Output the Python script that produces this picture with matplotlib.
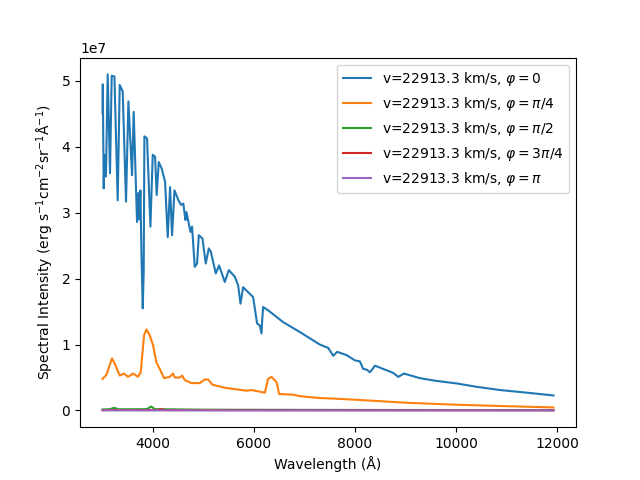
import matplotlib
matplotlib.use("Agg")
import matplotlib.pyplot as plt
import numpy as np

# wavelengths (Angstrom) and intensities (units of 1e7)
wave_phi0 = [3000, 3005, 3023, 3037, 3068, 3102, 3148, 3181, 3235, 3300, 3340,
             3399, 3465, 3512, 3584, 3617, 3683, 3710, 3730, 3750, 3770, 3796,
             3815, 3829, 3881, 3948, 3994, 4040, 4073, 4113, 4172, 4238, 4291,
             4337, 4377, 4424, 4503, 4555, 4600, 4642, 4662, 4741, 4773, 4826,
             4872, 4906, 4979, 5044, 5104, 5144, 5243, 5308, 5421, 5500, 5619,
             5685, 5732, 5784, 5917, 5982, 6061, 6115, 6148, 6165, 6180, 6279,
             6577, 6908, 7304, 7469, 7568, 7647, 7833, 7998, 8097, 8162, 8230,
             8295, 8348, 8394, 8757, 8856, 8969, 9286, 9600, 10013, 10400,
             10872, 11400, 11930]
flux_phi0 = [4.51, 4.95, 3.37, 3.88, 3.55, 5.10, 3.60, 5.08, 5.07, 3.19, 4.94,
             4.84, 3.17, 4.69, 3.57, 4.53, 2.86, 3.30, 2.90, 3.34, 2.40, 1.55,
             2.10, 4.16, 4.13, 2.79, 3.88, 3.85, 3.27, 3.77, 3.67, 3.47, 2.63,
             3.39, 2.66, 3.34, 3.19, 3.12, 3.14, 2.89, 3.01, 2.71, 2.79, 2.18,
             2.23, 2.66, 2.61, 2.23, 2.46, 2.41, 2.08, 2.20, 1.95, 2.13, 2.03,
             1.90, 1.62, 1.87, 1.77, 1.72, 1.32, 1.29, 1.17, 1.40, 1.57, 1.52,
             1.34, 1.19, 1.00, 0.95, 0.83, 0.89, 0.84, 0.76, 0.745, 0.63, 0.62,
             0.58, 0.63, 0.68, 0.57, 0.51, 0.56, 0.49, 0.45, 0.41, 0.36,
             0.31, 0.27, 0.228]

wave_phi1 = [3000, 3076, 3187, 3241, 3340, 3425, 3504, 3604, 3703, 3756, 3822,
             3869, 3935, 4000, 4067, 4133, 4218, 4331, 4396, 4430, 4529, 4575,
             4628, 4761, 4926, 5025, 5090, 5177, 5455, 5851, 5950, 6081, 6214,
             6279, 6346, 6446, 6497, 6775, 6908, 7270, 7635, 8300, 9023,
             10013, 11000, 11930]
flux_phi1 = [0.48, 0.54, 0.79, 0.71, 0.53, 0.56, 0.51, 0.56, 0.51, 0.58, 1.14,
             1.23, 1.14, 0.99, 0.73, 0.63, 0.49, 0.51, 0.56, 0.50, 0.50, 0.53,
             0.46, 0.415, 0.415, 0.47, 0.47, 0.39, 0.34, 0.30, 0.31, 0.29, 0.27,
             0.48, 0.51, 0.43, 0.25, 0.24, 0.217, 0.19, 0.178, 0.15, 0.117,
             0.087, 0.065, 0.046]

wave_phi2 = [3000, 3150, 3230, 3320, 3880, 3960, 4040, 5000, 8000, 11930]
flux_phi2 = [0.015, 0.02, 0.04, 0.018, 0.02, 0.06, 0.02, 0.012, 0.008, 0.005]

wave_phi3 = [3000, 4080, 4160, 4240, 8000, 11930]
flux_phi3 = [0.006, 0.006, 0.02, 0.006, 0.004, 0.003]

wave_phi4 = [3000, 6000, 11930]
flux_phi4 = [0.002, 0.001, 0.001]

label_v = "v=22913.3 km/s"
phi_labels = [r"$\varphi=0$", r"$\varphi=\pi/4$", r"$\varphi=\pi/2$",
              r"$\varphi=3\pi/4$", r"$\varphi=\pi$"]

series = [(wave_phi0, flux_phi0), (wave_phi1, flux_phi1),
          (wave_phi2, flux_phi2), (wave_phi3, flux_phi3),
          (wave_phi4, flux_phi4)]

fig, ax = plt.subplots(figsize=(6.4, 4.8), dpi=100)

for (w, f), lab in zip(series, phi_labels):
    ax.plot(w, np.array(f) * 1e7, label=label_v + ", " + lab)

ax.set_xlabel("Wavelength (Å)")
ax.set_ylabel(r"Spectral Intensity (erg s$^{-1}$cm$^{-2}$sr$^{-1}$Å$^{-1}$)")
ax.legend(loc="upper right")

fig.savefig("out.png")
